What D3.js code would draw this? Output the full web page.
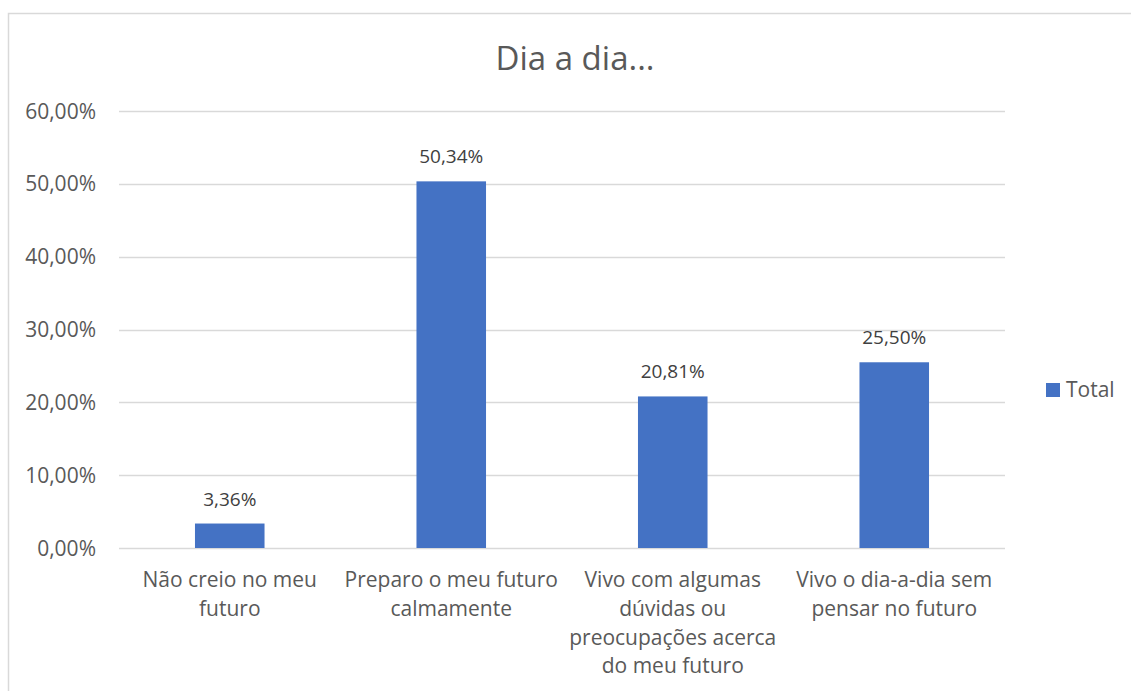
<!DOCTYPE html>
<html>
<head>
<meta charset="utf-8">
<script src="https://cdn.jsdelivr.net/npm/d3@7"></script>
<style>
  html, body { margin: 0; padding: 0; background: #fff; }
  svg { display: block; font-family: "Open Sans", "Noto Sans", sans-serif; }
</style>
</head>
<body>
<svg id="chart" width="1131" height="691"></svg>
<script>
const title = "Dia a dia...";
const categories = [
  "Não creio no meu\nfuturo",
  "Preparo o meu futuro\ncalmamente",
  "Vivo com algumas\ndúvidas ou\npreocupações acerca\ndo meu futuro",
  "Vivo o dia-a-dia sem\npensar no futuro"
];
const values = [3.36, 50.34, 20.81, 25.50];
const yTicks = [0, 10, 20, 30, 40, 50, 60];
const seriesName = "Total";

const svg = d3.select("#chart");
const fmt = v => v.toFixed(2).replace(".", ",") + "%";

// chart border
svg.append("rect")
  .attr("x", 8.5).attr("y", 13.5)
  .attr("width", 1200).attr("height", 800)
  .attr("fill", "none").attr("stroke", "#d9d9d9").attr("stroke-width", 1.5);

const x = d3.scaleBand()
  .domain(categories)
  .range([119, 1005])
  .paddingInner(0.686)
  .paddingOuter(0.343);

const y = d3.scaleLinear().domain([0, 60]).range([548, 111]);

// gridlines
svg.append("g").selectAll("line")
  .data(yTicks)
  .join("line")
  .attr("x1", 119).attr("x2", 1005)
  .attr("y1", d => Math.round(y(d)) + 0.5).attr("y2", d => Math.round(y(d)) + 0.5)
  .attr("stroke", "#d9d9d9").attr("stroke-width", 1.3);

// y tick labels
svg.append("g").selectAll("text")
  .data(yTicks)
  .join("text")
  .attr("x", 96)
  .attr("y", d => y(d) + 7.5)
  .attr("text-anchor", "end")
  .attr("fill", "#595959")
  .attr("font-size", 21)
  .text(d => fmt(d));

// bars
svg.append("g").selectAll("rect")
  .data(values)
  .join("rect")
  .attr("x", (d, i) => x(categories[i]))
  .attr("width", x.bandwidth())
  .attr("y", d => y(d))
  .attr("height", d => y(0) - y(d))
  .attr("fill", "#4472c4");

// data labels
svg.append("g").selectAll("text")
  .data(values)
  .join("text")
  .attr("x", (d, i) => x(categories[i]) + x.bandwidth() / 2)
  .attr("y", d => y(d) - 18)
  .attr("text-anchor", "middle")
  .attr("fill", "#404040")
  .attr("font-size", 19)
  .text(d => fmt(d));

// category labels
const cat = svg.append("g").selectAll("text")
  .data(categories)
  .join("text")
  .attr("text-anchor", "middle")
  .attr("fill", "#595959")
  .attr("font-size", 21);
cat.each(function(d) {
  const t = d3.select(this);
  const cx = x(d) + x.bandwidth() / 2;
  d.split("\n").forEach((line, i) => {
    t.append("tspan").attr("x", cx).attr("y", 587 + i * 28.8).text(line);
  });
});

// title
svg.append("text")
  .attr("x", 575).attr("y", 70)
  .attr("text-anchor", "middle")
  .attr("fill", "#595959")
  .attr("font-size", 33)
  .text(title);

// legend
const lg = svg.append("g");
lg.append("rect").attr("x", 1046).attr("y", 383).attr("width", 14).attr("height", 14).attr("fill", "#4472c4");
lg.append("text").attr("x", 1066).attr("y", 397).attr("fill", "#595959").attr("font-size", 21).text(seriesName);
</script>
</body>
</html>
